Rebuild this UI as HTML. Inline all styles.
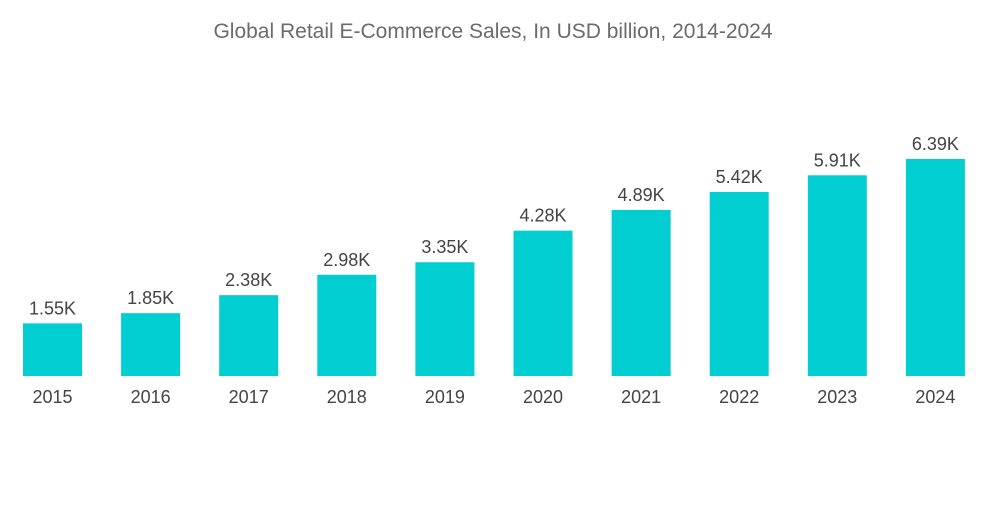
<!DOCTYPE html>
<html><head><meta charset="utf-8"><style>
body{margin:0;background:#fff;width:1000px;height:504px;overflow:hidden;font-family:"Liberation Sans",sans-serif}
</style></head><body>
<svg width="1000" height="504">
<text x="493" y="38" text-anchor="middle" font-size="21" fill="#6b6b6b">Global Retail E-Commerce Sales, In USD billion, 2014-2024</text>
<g id="bars"></g>
</svg>
<script>
const categories=["2015","2016","2017","2018","2019","2020","2021","2022","2023","2024"];
const values=[1.55,1.85,2.38,2.98,3.35,4.28,4.89,5.42,5.91,6.39];
const valueLabels=["1.55K","1.85K","2.38K","2.98K","3.35K","4.28K","4.89K","5.42K","5.91K","6.39K"];
const baseY=376, pxPerUnit=33.96, x0=23, step=98.1, bw=59;
const yScale=v=>baseY-v*pxPerUnit;
const xScale=i=>x0+i*step;
const g=document.getElementById('bars');
const ns="http://www.w3.org/2000/svg";
categories.forEach((c,i)=>{
  const r=document.createElementNS(ns,'rect');
  r.setAttribute('x',xScale(i));r.setAttribute('y',yScale(values[i]));
  r.setAttribute('width',bw);r.setAttribute('height',baseY-yScale(values[i]));
  r.setAttribute('fill','#00ced1');
  
  
  g.appendChild(r);
  const t=document.createElementNS(ns,'text');
  t.setAttribute('x',xScale(i)+bw/2);t.setAttribute('y',yScale(values[i])-9);
  t.setAttribute('text-anchor','middle');t.setAttribute('font-size','18');t.setAttribute('fill','#444');
  t.textContent=valueLabels[i];
  
  
  g.appendChild(t);
  const a=document.createElementNS(ns,'text');
  a.setAttribute('x',xScale(i)+bw/2);a.setAttribute('y',403);
  a.setAttribute('text-anchor','middle');a.setAttribute('font-size','18');a.setAttribute('fill','#444');
  a.textContent=c;
  
  
  g.appendChild(a);
});
</script>
</body></html>
